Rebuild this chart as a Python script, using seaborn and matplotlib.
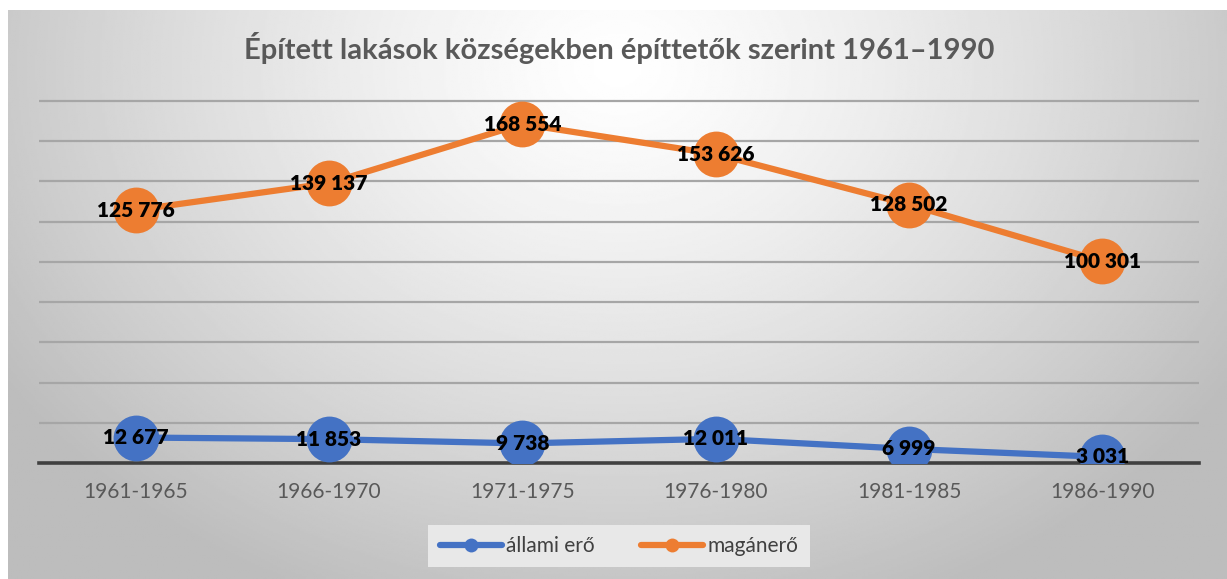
import numpy as np
import pandas as pd
import matplotlib.pyplot as plt
from matplotlib.lines import Line2D
import seaborn as sns

# data
periods = ['1961-1965', '1966-1970', '1971-1975', '1976-1980', '1981-1985', '1986-1990']
allami = [12677, 11853, 9738, 12011, 6999, 3031]
maganero = [125776, 139137, 168554, 153626, 128502, 100301]
series_names = ['állami erő', 'magánerő']
colors = ['#4472C4', '#ED7D31']

df = pd.DataFrame({
    'period': periods * 2,
    'value': allami + maganero,
    'series': [series_names[0]] * 6 + [series_names[1]] * 6,
})

sns.set_style('white')
plt.rcParams['font.family'] = ['Lato', 'DejaVu Sans']

W, H = 1227, 579
fig = plt.figure(figsize=(W / 100, H / 100), dpi=100)
fig.patch.set_facecolor('white')

# gradient background of the chart area
bg = fig.add_axes([8 / W, 0, 1 - 8 / W, 1 - 10 / H])
bg.set_axis_off()
yy, xx = np.mgrid[0:1:300j, 0:1:600j]
r = np.sqrt(((xx - 0.5) / 0.62) ** 2 + ((yy - 0.1) / 1.05) ** 2)
shade = np.clip(1.0 - 0.27 * r ** 1.25, 0.74, 1.0)
bg.imshow(shade, cmap='gray', vmin=0, vmax=1, aspect='auto', extent=[0, 1, 1, 0])
bg.set_zorder(0)

# main axes: x from 39 to 1199 px, y axis at 463 px, 180000 at 101 px
top_px = 463 - (463 - 101) * 182000 / 180000
ax = fig.add_axes([39 / W, (H - 463) / H, (1199 - 39) / W, (463 - top_px) / H])
ax.set_zorder(1)
ax.patch.set_alpha(0)

sns.lineplot(data=df, x='period', y='value', hue='series', palette=colors,
             linewidth=4.5, marker='o', markersize=33, markeredgewidth=0,
             legend=False, ax=ax, zorder=3)

ax.set_xlim(-0.5, 5.5)
ax.set_ylim(0, 182000)
ax.set_yticks(range(20000, 180001, 20000))
ax.set_yticklabels([])
ax.yaxis.grid(True, color='#a6a6a6', linewidth=1.6, zorder=1)
ax.tick_params(axis='y', length=0)
ax.tick_params(axis='x', length=0, labelsize=15, labelcolor='#595959', pad=14)
for s in ['top', 'right', 'left']:
    ax.spines[s].set_visible(False)
ax.spines['bottom'].set_color('#404040')
ax.spines['bottom'].set_linewidth(2.6)
ax.spines['bottom'].set_zorder(2)
ax.set_xlabel('')
ax.set_ylabel('')

def fmt(v):
    return f'{v:,}'.replace(',', ' ')

for vals in [allami, maganero]:
    for i, v in enumerate(vals):
        ax.text(i, v, fmt(v), ha='center', va='center', fontsize=15,
                fontweight='heavy', color='black', zorder=5)

fig.text(619 / W, 1 - 48 / H, 'Épített lakások községekben építtetők szerint 1961–1990',
         ha='center', va='center', fontsize=21, fontweight='bold', color='#595959')

handles = [Line2D([0], [0], color=c, linewidth=4.5, marker='o', markersize=10,
                  markeredgewidth=0) for c in colors]
leg = fig.legend(handles, series_names, loc='center', bbox_to_anchor=(619 / W, 1 - 546 / H),
                 ncol=2, frameon=True, fontsize=15, handlelength=3.0, handletextpad=0.2,
                 columnspacing=2.2, borderpad=0.55, borderaxespad=0)
leg.get_frame().set_facecolor('#e8e8e8')
leg.get_frame().set_edgecolor('none')
leg.get_frame().set_alpha(1)
leg.get_frame().set_boxstyle('square', pad=0.0)
for t in leg.get_texts():
    t.set_color('#404040')

fig.savefig('out.png', dpi=100)
